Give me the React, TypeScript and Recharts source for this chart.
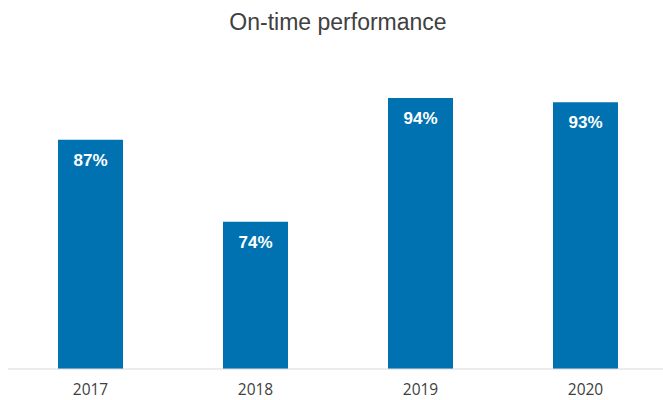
import React from "react";
import { BarChart, Bar, XAxis, YAxis, LabelList } from "recharts";

const years = ["2017", "2018", "2019", "2020"];
const onTime = [87.2, 73.9, 94.0, 93.3];
const yDomain = [50, 100];
const chartTitle = "On-time performance";

const data = years.map((year, i) => ({ year, value: onTime[i] }));

const Tick = (props: any) => {
  const { x, y, payload } = props;
  return (
    <text
      x={x}
      y={y + 26}
      textAnchor="middle"
      fontFamily="'Open Sans', sans-serif"
      fontSize={15.5}
      fill="#404040"
    >
      {payload.value}
    </text>
  );
};

const ValueLabel = (props: any) => {
  const { x, y, width, value } = props;
  return (
    <text
      x={x + width / 2}
      y={y + 26}
      textAnchor="middle"
      fontFamily="'Liberation Sans', Arial, sans-serif"
      fontWeight="bold"
      fontSize={17}
      fill="#ffffff"
    >
      {Math.round(value) + "%"}
    </text>
  );
};

export default function App() {
  return (
    <div
      style={{
        position: "absolute",
        left: 0,
        top: 0,
        width: 663,
        height: 400,
        overflow: "hidden",
        background: "#ffffff",
      }}
    >
      <BarChart
        width={670}
        height={400}
        data={data}
        margin={{ top: 61, right: 2, bottom: 0, left: 8 }}
      >
        <text
          x={338}
          y={29.5}
          textAnchor="middle"
          fontFamily="'Liberation Sans', Arial, sans-serif"
          fontSize={23}
          fill="#404040"
        >
          {chartTitle}
        </text>
        <YAxis hide domain={yDomain} allowDataOverflow />
        <XAxis
          dataKey="year"
          height={31}
          tickSize={0}
          tickMargin={0}
          tickLine={false}
          axisLine={{ stroke: "#d9d9d9", strokeWidth: 1 }}
          tick={<Tick />}
          interval={0}
        />
        <Bar dataKey="value" fill="#0072b2" barSize={65} isAnimationActive={false}>
          <LabelList dataKey="value" content={<ValueLabel />} />
        </Bar>
      </BarChart>
    </div>
  );
}
